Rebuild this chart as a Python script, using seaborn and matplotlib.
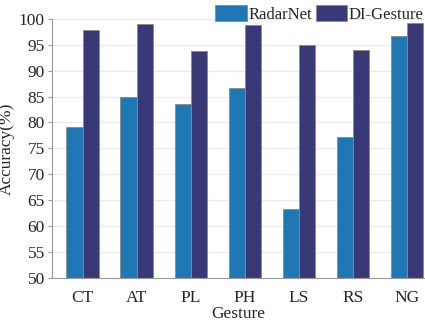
import pandas as pd
import matplotlib.pyplot as plt
import seaborn as sns

gestures = ["CT", "AT", "PL", "PH", "LS", "RS", "NG"]
radarnet = [79.1, 85.0, 83.6, 86.7, 63.3, 77.2, 96.6]
di_gesture = [97.8, 99.0, 93.7, 98.8, 95.0, 94.0, 99.2]

df = pd.DataFrame({
    "Gesture": gestures * 2,
    "Accuracy": radarnet + di_gesture,
    "Model": ["RadarNet"] * len(gestures) + ["DI-Gesture"] * len(gestures),
})

sns.set_style("white")
plt.rcParams["font.family"] = ["Liberation Serif", "DejaVu Serif"]

fig = plt.figure(figsize=(4.25, 3.25), dpi=100)
ax = fig.add_axes([0.122, 0.145, 0.875, 0.797])

sns.barplot(data=df, x="Gesture", y="Accuracy", hue="Model",
            palette=["#1f77b4", "#393977"], width=0.6, gap=0, saturation=1,
            edgecolor="#8a8a8a", linewidth=0.6, ax=ax)

ax.set_ylim(50, 100)
ax.set_xlim(-0.57, 6.31)
ax.set_yticks(range(50, 101, 5))
ax.yaxis.grid(True, color="#ebebeb", linewidth=0.8)
ax.set_axisbelow(True)
for s in ["top", "right"]:
    ax.spines[s].set_visible(False)
for s in ["left", "bottom"]:
    ax.spines[s].set_color("#999999")
    ax.spines[s].set_linewidth(0.8)
ax.tick_params(axis="y", left=True, length=3, color="#999999", labelsize=12.5, pad=2)
ax.tick_params(axis="x", bottom=False, labelsize=12.5, pad=5)
ax.set_xlabel("Gesture", fontsize=12.5, labelpad=0)
ax.set_ylabel("Accuracy(%)", fontsize=12.5, labelpad=3)

ax.legend(loc="lower right", bbox_to_anchor=(1.0, 0.985), ncol=2, frameon=False,
          fontsize=12, handlelength=1.9, handleheight=1.1, handletextpad=0.1,
          columnspacing=0.2, borderaxespad=0, borderpad=0)

fig.savefig("out.png", dpi=100)
